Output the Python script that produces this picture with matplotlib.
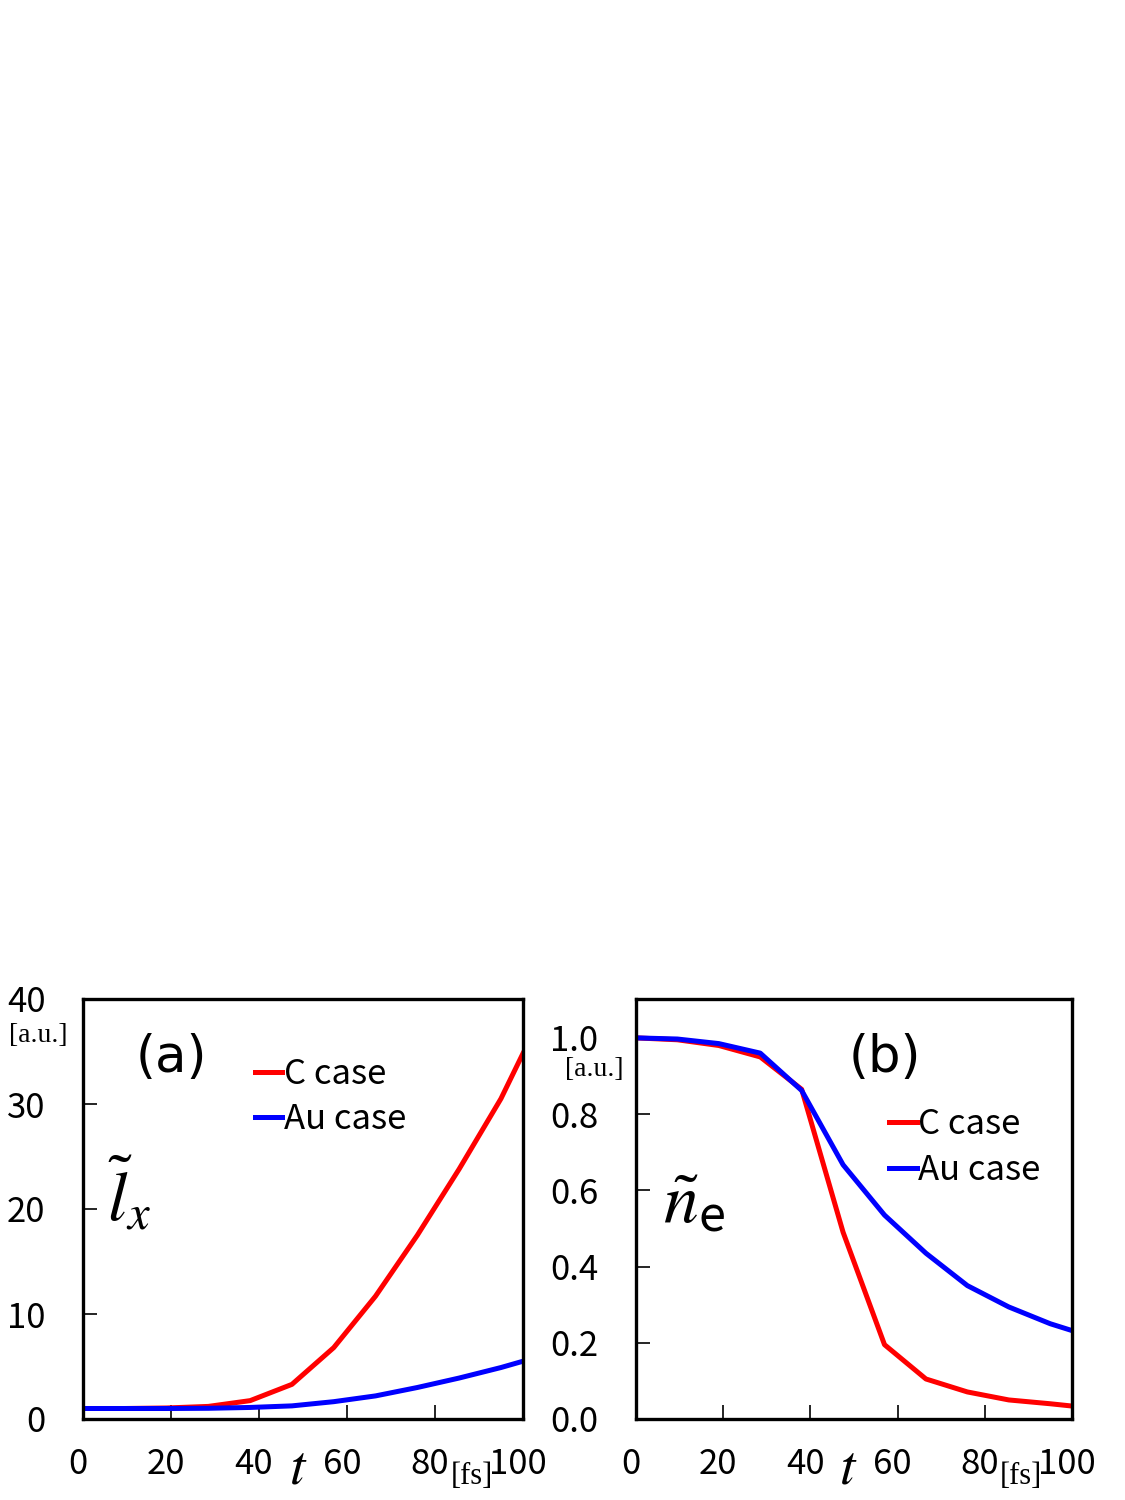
import matplotlib
matplotlib.use("Agg")
import matplotlib.pyplot as plt
import matplotlib.transforms as mtransforms
import numpy as np

# time samples [fs]
t = [0, 9.5, 19, 28.5, 38, 47.5, 57, 66.5, 76, 85.5, 95, 100]

# (a) l_x
lx_c = [1.0, 1.0, 1.05, 1.2, 1.75, 3.3, 6.8, 11.7, 17.5, 23.8, 30.5, 34.8]
lx_au = [1.0, 1.0, 1.0, 1.02, 1.1, 1.25, 1.65, 2.2, 3.0, 3.9, 4.9, 5.5]

# (b) n_e
ne_c = [1.0, 0.995, 0.98, 0.95, 0.865, 0.49, 0.195, 0.105, 0.071, 0.05, 0.04, 0.034]
ne_au = [1.0, 0.997, 0.985, 0.96, 0.862, 0.667, 0.535, 0.435, 0.35, 0.294, 0.25, 0.232]

xticks = [0, 20, 40, 60, 80, 100]
a_yticks = [0, 10, 20, 30, 40]
b_yticks = [0.0, 0.2, 0.4, 0.6, 0.8, 1.0]

plt.rcParams['font.family'] = ['Noto Sans CJK JP', 'DejaVu Sans']

fig = plt.figure(figsize=(11.25, 15), dpi=100)
ax_a = fig.add_axes([0.0738, 0.054, 0.391, 0.28])
ax_b = fig.add_axes([0.5653, 0.054, 0.3876, 0.28])

tick_fs = 25
shift = mtransforms.ScaledTranslation(-5 / 100, 0, fig.dpi_scale_trans)


def style_axes(ax):
    for s in ax.spines.values():
        s.set_linewidth(2.4)
    ax.tick_params(direction='in', length=10, width=1.2, labelsize=tick_fs)
    ax.tick_params(axis='x', pad=20)
    ax.tick_params(axis='y', pad=27)
    ax.set_xlim(0, 100)
    ax.set_xticks(xticks)
    ax.set_xticklabels([str(v) for v in xticks])
    for lab in ax.get_xticklabels():
        lab.set_transform(lab.get_transform() + shift)


# panel (a)
ax_a.plot(t, lx_c, color='#ff0000', lw=3.6, label='C case')
ax_a.plot(t, lx_au, color='#0000ff', lw=3.6, label='Au case')
style_axes(ax_a)
ax_a.set_ylim(0, 40)
ax_a.set_yticks(a_yticks)
ax_a.set_yticklabels([str(v) for v in a_yticks])

# panel (b)
ax_b.plot(t, ne_c, color='#ff0000', lw=3.6, label='C case')
ax_b.plot(t, ne_au, color='#0000ff', lw=3.6, label='Au case')
style_axes(ax_b)
ax_b.set_ylim(0, 1.102)
ax_b.set_yticks(b_yticks)
ax_b.set_yticklabels(['%.1f' % v for v in b_yticks])

for ax, loc in [(ax_a, (0.39, 0.862)), (ax_b, (0.58, 0.742))]:
    ax.legend(loc='upper left', bbox_to_anchor=loc, frameon=False,
              fontsize=25, handlelength=0.8, handletextpad=0.05,
              labelspacing=0.3, borderaxespad=0, borderpad=0)

# panel labels
ax_a.text(0.2, 0.86, '(a)', transform=ax_a.transAxes, fontsize=37,
          ha='center', va='center', family='DejaVu Sans')
ax_b.text(0.57, 0.86, '(b)', transform=ax_b.transAxes, fontsize=37,
          ha='center', va='center', family='DejaVu Sans')

# quantity symbols
ax_a.text(0.105, 0.53, r'$\tilde{l}_x$', transform=ax_a.transAxes,
          fontsize=50, ha='center', va='center', math_fontfamily='stix')
ax_b.text(0.135, 0.515, r'$\tilde{n}_{\mathregular{e}}$', transform=ax_b.transAxes,
          fontsize=50, ha='center', va='center', math_fontfamily='stix')

# units and t labels
fig.text(38 / 1125, 1 - 1035 / 1500, '[a.u.]', fontsize=20,
         family='Liberation Serif', ha='center', va='center')
fig.text(594 / 1125, 1 - 1070 / 1500, '[a.u.]', fontsize=20,
         family='Liberation Serif', ha='center', va='center')
for xt, xf in [(298, 472), (848, 1021)]:
    fig.text(xt / 1125, 1 - 1468 / 1500, r'$t$', fontsize=40,
             math_fontfamily='stix', ha='center', va='center')
    fig.text(xf / 1125, 1 - 1476 / 1500, '[fs]', fontsize=22,
             family='Liberation Serif', ha='center', va='center')

fig.savefig('out.png', dpi=100)
